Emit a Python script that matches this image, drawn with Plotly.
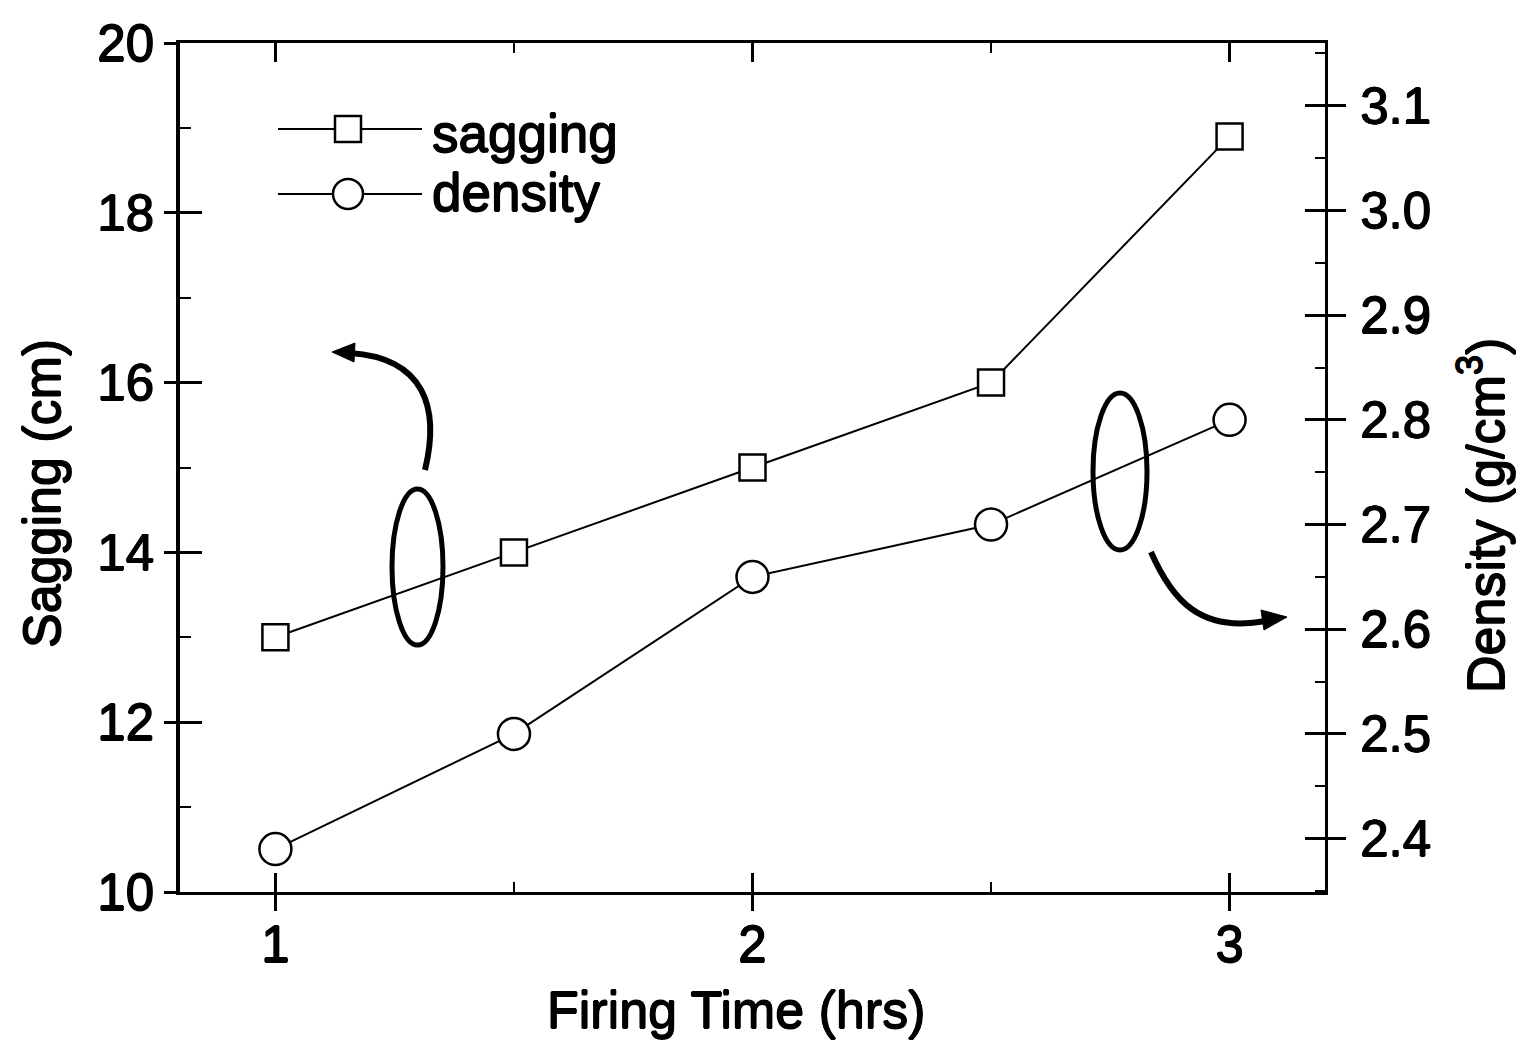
import plotly.graph_objects as go

# ---- data ----
firing_time = [1.0, 1.5, 2.0, 2.5, 3.0]
sagging_cm = [13.0, 14.0, 15.0, 16.0, 18.9]
density_gcm3 = [2.39, 2.50, 2.65, 2.70, 2.80]

x_ticks = [1, 2, 3]
left_ticks = [10, 12, 14, 16, 18, 20]
right_ticks = [2.4, 2.5, 2.6, 2.7, 2.8, 2.9, 3.0, 3.1]

W, H = 1533, 1049
L, R, T, B = 180, 1325, 43, 892
FONT = "Arial, Liberation Sans, sans-serif"
SHADOW = "0.7px 0 0 black, -0.7px 0 0 black, 0 0.7px 0 black, 0 -0.7px 0 black"


def px(xp):
    return (xp - L) / (R - L)


def py(yp):
    return (B - yp) / (B - T)


def P(xp, yp):
    return "%.5f,%.5f" % (px(xp), py(yp))


def fnt(size):
    return dict(family=FONT, size=size, color="black", shadow=SHADOW)


fig = go.Figure()

fig.add_trace(go.Scatter(
    x=firing_time, y=sagging_cm, mode="lines+markers", name="sagging",
    line=dict(color="black", width=2),
    marker=dict(symbol="square", size=26, color="white",
                line=dict(color="black", width=2.5)),
    yaxis="y", showlegend=False, cliponaxis=False))

fig.add_trace(go.Scatter(
    x=firing_time, y=density_gcm3, mode="lines+markers", name="density",
    line=dict(color="black", width=2),
    marker=dict(symbol="circle", size=32, color="white",
                line=dict(color="black", width=2.5)),
    yaxis="y2", showlegend=False, cliponaxis=False))

# empty helper traces so the overlay tick axes (outer half of crossing ticks) are drawn
fig.add_trace(go.Scatter(x=[], y=[], xaxis="x2", yaxis="y", showlegend=False))
fig.add_trace(go.Scatter(x=[], y=[], xaxis="x", yaxis="y3", showlegend=False))
fig.add_trace(go.Scatter(x=[], y=[], xaxis="x", yaxis="y4", showlegend=False))

xr = [0.8, 3.2]
yr = [10, 20]
y2r = [2.349, 3.160]

tickfont = fnt(51)

fig.update_layout(
    width=W, height=H,
    margin=dict(l=L, r=W - R, t=T, b=H - B),
    paper_bgcolor="white", plot_bgcolor="white",
    font=dict(family=FONT, color="black"),
    xaxis=dict(range=xr, tickvals=x_ticks, ticktext=[str(v) for v in x_ticks],
               ticks="inside", ticklen=19, tickwidth=2.5, tickcolor="black",
               showline=True, linewidth=2.5, linecolor="black", mirror="ticks",
               showgrid=False, zeroline=False, tickfont=tickfont,
               ticklabelstandoff=6,
               minor=dict(dtick=0.5, tick0=1, ticks="inside", ticklen=10,
                          tickwidth=2, tickcolor="black", showgrid=False)),
    xaxis2=dict(range=xr, overlaying="x", anchor="y", side="bottom",
                tickvals=x_ticks, ticks="outside", ticklen=18, tickwidth=2.5,
                tickcolor="black", showticklabels=False, showline=False,
                showgrid=False, zeroline=False),
    yaxis=dict(range=yr, tickvals=left_ticks, ticktext=[str(v) for v in left_ticks],
               ticks="inside", ticklen=22, tickwidth=2.5, tickcolor="black",
               showline=True, linewidth=3.5, linecolor="black",
               showgrid=False, zeroline=False, tickfont=tickfont,
               ticklabelstandoff=12,
               minor=dict(dtick=1, tick0=10, ticks="inside", ticklen=11,
                          tickwidth=2, tickcolor="black", showgrid=False)),
    yaxis2=dict(range=y2r, overlaying="y", side="right", anchor="x",
                tickvals=right_ticks, ticktext=["%.1f" % v for v in right_ticks],
                ticks="inside", ticklen=20, tickwidth=2.5, tickcolor="black",
                showline=True, linewidth=3, linecolor="black",
                showgrid=False, zeroline=False, tickfont=tickfont,
                ticklabelstandoff=22,
                minor=dict(dtick=0.05, tick0=2.35, ticks="inside", ticklen=10,
                           tickwidth=2, tickcolor="black", showgrid=False)),
    yaxis3=dict(range=yr, overlaying="y", side="left", anchor="x",
                tickvals=left_ticks, ticks="outside", ticklen=15, tickwidth=2.5,
                tickcolor="black", showticklabels=False, showline=False,
                showgrid=False, zeroline=False),
    yaxis4=dict(range=y2r, overlaying="y", side="right", anchor="x",
                tickvals=right_ticks, ticks="outside", ticklen=20, tickwidth=2.5,
                tickcolor="black", showticklabels=False, showline=False,
                showgrid=False, zeroline=False),
)

# axis titles
fig.add_annotation(text="Firing Time (hrs)", xref="paper", yref="paper",
                   x=px(736), y=py(1010), xanchor="center", yanchor="middle",
                   showarrow=False, font=fnt(52))
fig.add_annotation(text="Sagging (cm)", xref="paper", yref="paper",
                   x=px(42), y=py(494), xanchor="center", yanchor="middle",
                   textangle=-90, showarrow=False, font=fnt(52))
fig.add_annotation(text="Density (g/cm<sup>3</sup>)", xref="paper", yref="paper",
                   x=px(1482), y=py(515), xanchor="center", yanchor="middle",
                   textangle=-90, showarrow=False, font=fnt(52))

# custom legend (long line samples as in the original figure)
shapes = []
for yrow in (129, 194):
    shapes.append(dict(type="line", xref="paper", yref="paper",
                       x0=px(278), x1=px(422), y0=py(yrow), y1=py(yrow),
                       line=dict(color="black", width=2)))
shapes.append(dict(type="rect", xref="paper", yref="paper",
                   x0=px(335), x1=px(361), y0=py(116), y1=py(142),
                   fillcolor="white", line=dict(color="black", width=2.5)))
shapes.append(dict(type="circle", xref="paper", yref="paper",
                   x0=px(333), x1=px(363), y0=py(179), y1=py(209),
                   fillcolor="white", line=dict(color="black", width=2.5)))
fig.add_annotation(text="sagging", xref="paper", yref="paper",
                   x=px(430), y=py(133), xanchor="left", yanchor="middle",
                   showarrow=False, font=fnt(53))
fig.add_annotation(text="density", xref="paper", yref="paper",
                   x=px(430), y=py(192), xanchor="left", yanchor="middle",
                   showarrow=False, font=fnt(53))

# ellipses
shapes.append(dict(type="circle", xref="paper", yref="paper",
                   x0=px(392), x1=px(443), y0=py(645), y1=py(489),
                   line=dict(color="black", width=5)))
shapes.append(dict(type="circle", xref="paper", yref="paper",
                   x0=px(1093), x1=px(1147), y0=py(550), y1=py(393),
                   line=dict(color="black", width=5)))

# curved arrows
shapes.append(dict(type="path", xref="paper", yref="paper",
                   path="M %s C %s %s %s" % (P(425, 470), P(440, 408), P(425, 358), P(350, 353)),
                   line=dict(color="black", width=6)))
shapes.append(dict(type="path", xref="paper", yref="paper",
                   path="M %s L %s L %s Z" % (P(332, 352), P(355, 343), P(354, 362)),
                   fillcolor="black", line=dict(color="black", width=1)))
shapes.append(dict(type="path", xref="paper", yref="paper",
                   path="M %s C %s %s %s" % (P(1151, 552), P(1172, 600), P(1200, 633), P(1266, 621)),
                   line=dict(color="black", width=6)))
shapes.append(dict(type="path", xref="paper", yref="paper",
                   path="M %s L %s L %s Z" % (P(1287, 617), P(1261, 610), P(1264, 630)),
                   fillcolor="black", line=dict(color="black", width=1)))

fig.update_layout(shapes=shapes)

fig.write_html("out.html")
